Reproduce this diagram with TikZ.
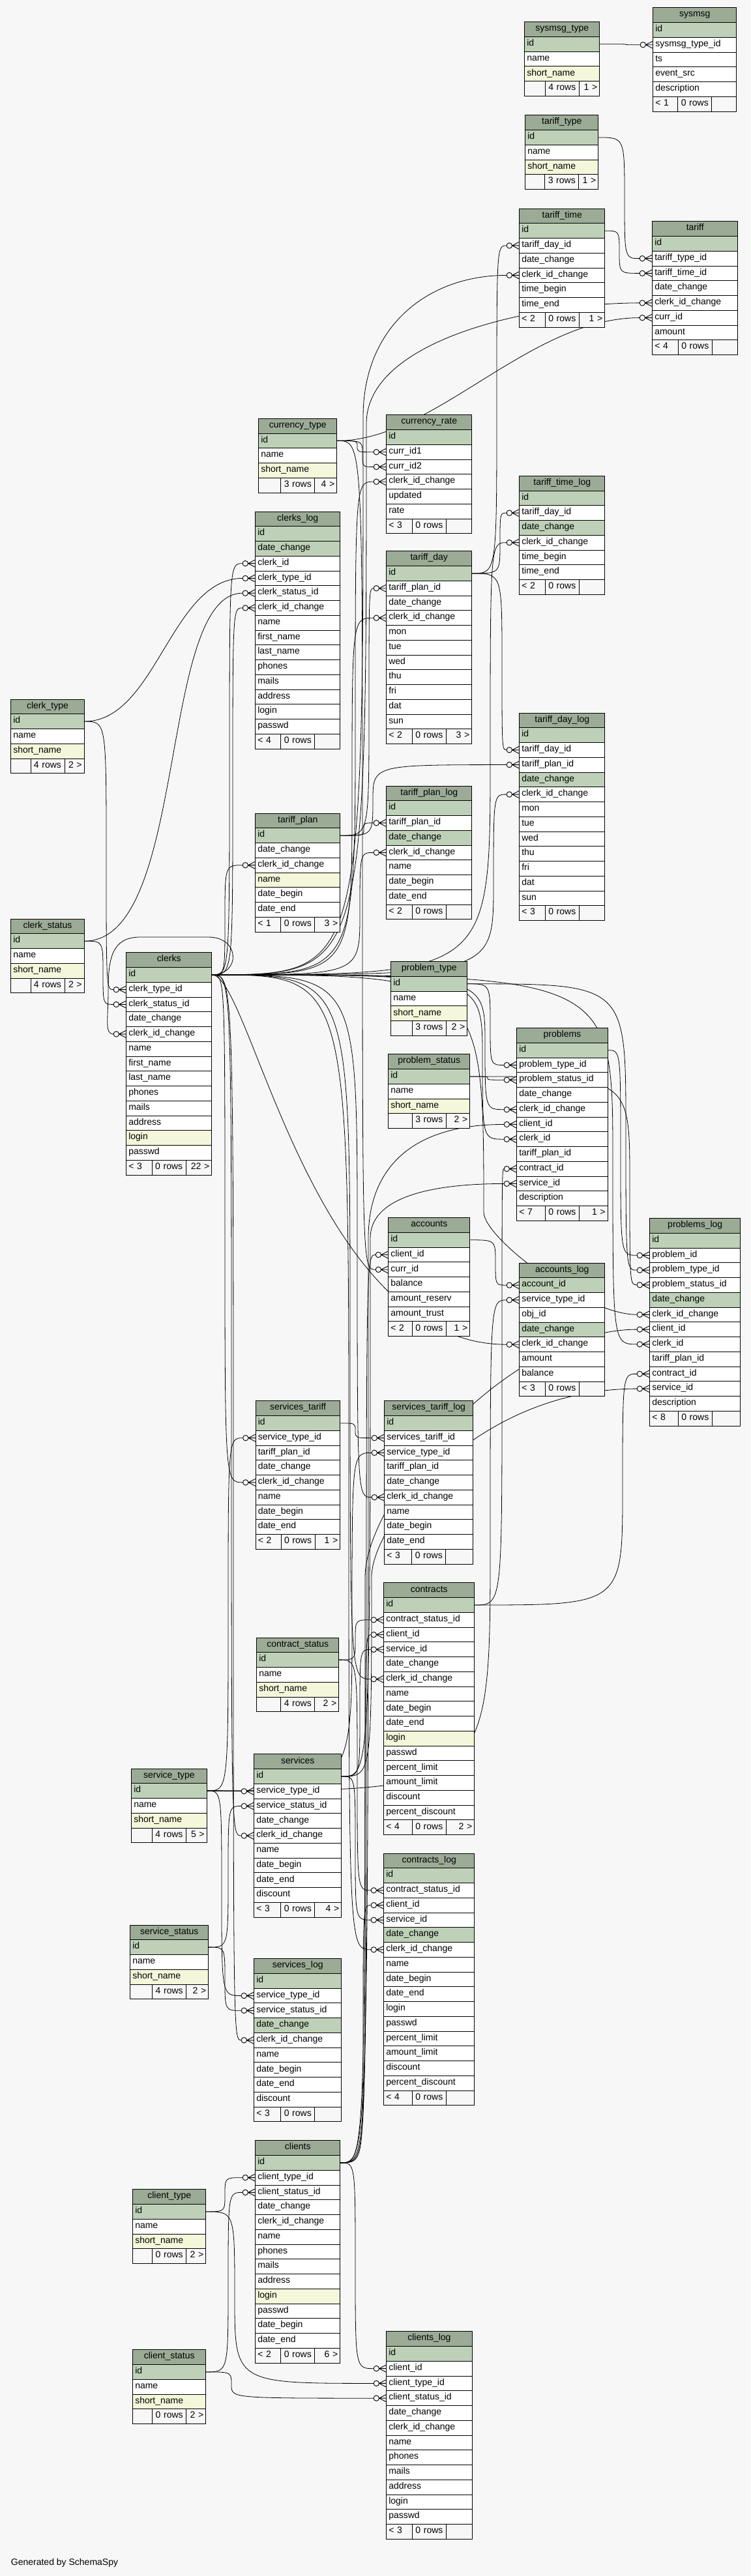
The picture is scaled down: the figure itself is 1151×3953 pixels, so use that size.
\documentclass[tikz,border=0pt]{standalone}
\usepackage{fontspec}
\setmainfont{Liberation Sans}
\usetikzlibrary{calc}
\definecolor{hdrc}{HTML}{9BAB96}
\definecolor{cp}{HTML}{BED1B8}
\definecolor{cn}{HTML}{FFFFFF}
\definecolor{ci}{HTML}{F4F7DA}
\definecolor{bgc}{HTML}{F7F7F7}
\pgfdeclarelayer{bgl}
\pgfdeclarelayer{edges}
\pgfsetlayers{bgl,edges,main}
\newcommand\tabfont{\fontsize{14pt}{16pt}\selectfont}
\def\myrowh{22.75}
\tikzset{
 cell/.style={draw=black, line width=0.9pt, anchor=north west, minimum height=22.75pt,
   inner xsep=3.5pt, inner ysep=0pt, text height=10pt, text depth=4.5pt, align=left, font=\tabfont},
 hdr/.style={cell, fill=hdrc, align=center},
 edge/.style={draw=black, line width=0.8pt},
 mkline/.style={draw=black, line width=0.9pt},
}
% table: name, x, y, width, rows, footer left, mid, right
\newcommand\dbtab[8]{%
  \pgfmathsetmacro\tbtw{#4-7}%
  \node[hdr, text width=\tbtw pt] (#1) at (#2,#3) {#1};
  \foreach \f/\k [count=\i] in {#5}{%
    \node[cell, fill=c\k, text width=\tbtw pt] (#1-\f) at (#2,{#3+\i*\myrowh}) {\f};
    \xdef\tbnrows{\i}}%
  \pgfmathsetmacro\tbfa{(#4-52)/2}%
  \pgfmathsetmacro\tbfb{#4-52-\tbfa}%
  \pgfmathsetmacro\tbfy{#3+(\tbnrows+1)*\myrowh}%
  \pgfmathsetmacro\tbtl{\tbfa-7}%
  \pgfmathsetmacro\tbtr{\tbfb-7}%
  \node[cell, fill=bgc, text width=\tbtl pt, align=left] (#1-fl) at (#2,\tbfy) {#6};
  \node[cell, fill=bgc, text width=45pt, align=center] (#1-fm) at ({#2+\tbfa},\tbfy) {#7};
  \node[cell, fill=bgc, text width=\tbtr pt, align=right] (#1-fr) at ({#2+\tbfa+52},\tbfy) {#8};
}
\newcommand\fkmark[1]{%
  \coordinate (#1-e) at ([xshift=-19.2pt]#1.west);
  \draw[mkline] ([xshift=-10.8pt]#1.west) -- (#1.west)
     ([xshift=-10.8pt]#1.west) -- ([yshift=5.5pt]#1.west)
     ([xshift=-10.8pt]#1.west) -- ([yshift=-5.5pt]#1.west);
  \draw[mkline, fill=bgc] ([xshift=-15pt]#1.west) circle[radius=4.2pt];
}
% corner route through vertical channel x
\newcommand\fkC[3]{%
  \fkmark{#2}%
  \begin{pgfonlayer}{edges}
  \draw[edge] (#1-id.east) .. controls (#3,0 |- #1-id.east) and (#3,0 |- #1-id.east) ..
    ($(#3,0 |- #1-id.east)!0.5!(#3,0 |- #2-e)$) .. controls (#3,0 |- #2-e) and (#3,0 |- #2-e) .. (#2-e);
  \end{pgfonlayer}}
% simple S curve
\newcommand\fkS[4]{%
  \fkmark{#2}%
  \begin{pgfonlayer}{edges}
  \draw[edge] (#1-id.east) .. controls +(#3,0) and +(-#4,0) .. (#2-e);
  \end{pgfonlayer}}
% channel then swoop
\newcommand\fkW[6]{%
  \fkmark{#2}%
  \begin{pgfonlayer}{edges}
  \draw[edge] (#1-id.east) .. controls (#3,0 |- #1-id.east) and (#3,0 |- #1-id.east) .. (#3,#4)
    .. controls +(0,#5) and +(-#6,0) .. (#2-e);
  \end{pgfonlayer}}
\catcode`\_=12
\begin{document}
\begin{tikzpicture}[x=1pt,y=-1pt]
\useasboundingbox (0,0) rectangle (1151,3953);
\begin{pgfonlayer}{bgl}
\fill[bgc] (0,0) rectangle (1151,3953);
\end{pgfonlayer}

\dbtab{sysmsg_type}{804.3}{33.2}{115}{id/p,name/n,short_name/i}{}{4 rows}{1 >}
\dbtab{sysmsg}{1001.3}{11.4}{128}{id/p,sysmsg_type_id/n,ts/n,event_src/n,description/n}{< 1}{0 rows}{}
\dbtab{tariff_type}{805.3}{176.4}{112}{id/p,name/n,short_name/i}{}{3 rows}{1 >}
\dbtab{tariff_time}{796.3}{319.6}{131}{id/p,tariff_day_id/n,date_change/n,clerk_id_change/n,time_begin/n,time_end/n}{< 2}{0 rows}{1 >}
\dbtab{tariff}{1000.3}{339.3}{131}{id/p,tariff_type_id/n,tariff_time_id/n,date_change/n,clerk_id_change/n,curr_id/n,amount/n}{< 4}{0 rows}{}
\dbtab{currency_type}{396.3}{641.8}{120}{id/p,name/n,short_name/i}{}{3 rows}{4 >}
\dbtab{currency_rate}{592.3}{636.4}{131}{id/p,curr_id1/n,curr_id2/n,clerk_id_change/n,updated/n,rate/n}{< 3}{0 rows}{}
\dbtab{clerks_log}{391.3}{784.6}{130}{id/p,date_change/p,clerk_id/n,clerk_type_id/n,clerk_status_id/n,clerk_id_change/n,name/n,first_name/n,last_name/n,phones/n,mails/n,address/n,login/n,passwd/n}{< 4}{0 rows}{}
\dbtab{tariff_time_log}{796.3}{729.8}{131}{id/p,tariff_day_id/n,date_change/p,clerk_id_change/n,time_begin/n,time_end/n}{< 2}{0 rows}{}
\dbtab{tariff_day}{592.3}{845.4}{131}{id/p,tariff_plan_id/n,date_change/n,clerk_id_change/n,mon/n,tue/n,wed/n,thu/n,fri/n,dat/n,sun/n}{< 2}{0 rows}{3 >}
\dbtab{tariff_day_log}{796.3}{1093.5}{131}{id/p,tariff_day_id/n,tariff_plan_id/n,date_change/p,clerk_id_change/n,mon/n,tue/n,wed/n,thu/n,fri/n,dat/n,sun/n}{< 3}{0 rows}{}
\dbtab{clerk_type}{16.3}{1072.5}{112.4}{id/p,name/n,short_name/i}{}{4 rows}{2 >}
\dbtab{tariff_plan}{391.3}{1247.6}{130}{id/p,date_change/n,clerk_id_change/n,name/i,date_begin/n,date_end/n}{< 1}{0 rows}{3 >}
\dbtab{tariff_plan_log}{592.3}{1205.5}{131}{id/p,tariff_plan_id/n,date_change/p,clerk_id_change/n,name/n,date_begin/n,date_end/n}{< 2}{0 rows}{}
\dbtab{clerk_status}{16.3}{1409.6}{112.4}{id/p,name/n,short_name/i}{}{4 rows}{2 >}
\dbtab{clerks}{193.3}{1461.3}{131}{id/p,clerk_type_id/n,clerk_status_id/n,date_change/n,clerk_id_change/n,name/n,first_name/n,last_name/n,phones/n,mails/n,address/n,login/i,passwd/n}{< 3}{0 rows}{22 >}
\dbtab{problem_type}{599.3}{1475.2}{117}{id/p,name/n,short_name/i}{}{3 rows}{2 >}
\dbtab{problem_status}{595.3}{1617.4}{125}{id/p,name/n,short_name/i}{}{3 rows}{2 >}
\dbtab{problems}{792.3}{1577.1}{139.4}{id/p,problem_type_id/n,problem_status_id/n,date_change/n,clerk_id_change/n,client_id/n,clerk_id/n,tariff_plan_id/n,contract_id/n,service_id/n,description/n}{< 7}{0 rows}{1 >}
\dbtab{accounts}{595.4}{1868.2}{125}{id/p,client_id/n,curr_id/n,balance/n,amount_reserv/n,amount_trust/n}{< 2}{0 rows}{1 >}
\dbtab{accounts_log}{796.3}{1937.6}{131}{account_id/p,service_type_id/n,obj_id/n,date_change/p,clerk_id_change/n,amount/n,balance/n}{< 3}{0 rows}{}
\dbtab{problems_log}{996.3}{1869}{139}{id/p,problem_id/n,problem_type_id/n,problem_status_id/n,date_change/p,clerk_id_change/n,client_id/n,clerk_id/n,tariff_plan_id/n,contract_id/n,service_id/n,description/n}{< 8}{0 rows}{}
\dbtab{services_tariff}{391.8}{2149.3}{129.6}{id/p,service_type_id/n,tariff_plan_id/n,date_change/n,clerk_id_change/n,name/n,date_begin/n,date_end/n}{< 2}{0 rows}{1 >}
\dbtab{services_tariff_log}{589.3}{2149.3}{136}{id/p,services_tariff_id/n,service_type_id/n,tariff_plan_id/n,date_change/n,clerk_id_change/n,name/n,date_begin/n,date_end/n}{< 3}{0 rows}{}
\dbtab{contracts}{588.3}{2428.4}{139}{id/p,contract_status_id/n,client_id/n,service_id/n,date_change/n,clerk_id_change/n,name/n,date_begin/n,date_end/n,login/i,passwd/n,percent_limit/n,amount_limit/n,discount/n,percent_discount/n}{< 4}{0 rows}{2 >}
\dbtab{contract_status}{393.3}{2512.5}{126}{id/p,name/n,short_name/i}{}{4 rows}{2 >}
\dbtab{services}{389.3}{2691.4}{134}{id/p,service_type_id/n,service_status_id/n,date_change/n,clerk_id_change/n,name/n,date_begin/n,date_end/n,discount/n}{< 3}{0 rows}{4 >}
\dbtab{service_type}{201.3}{2713.5}{115.4}{id/p,name/n,short_name/i}{}{4 rows}{5 >}
\dbtab{contracts_log}{588.3}{2843.5}{139}{id/p,contract_status_id/n,client_id/n,service_id/n,date_change/p,clerk_id_change/n,name/n,date_begin/n,date_end/n,login/n,passwd/n,percent_limit/n,amount_limit/n,discount/n,percent_discount/n}{< 4}{0 rows}{}
\dbtab{service_status}{199.3}{2953.5}{120}{id/p,name/n,short_name/i}{}{4 rows}{2 >}
\dbtab{services_log}{389.3}{3005.2}{134}{id/p,service_type_id/n,service_status_id/n,date_change/p,clerk_id_change/n,name/n,date_begin/n,date_end/n,discount/n}{< 3}{0 rows}{}
\dbtab{clients}{391.3}{3284.3}{130}{id/p,client_type_id/n,client_status_id/n,date_change/n,clerk_id_change/n,name/n,phones/n,mails/n,address/n,login/i,passwd/n,date_begin/n,date_end/n}{< 2}{0 rows}{6 >}
\dbtab{client_type}{203.3}{3359.3}{112}{id/p,name/n,short_name/i}{}{0 rows}{2 >}
\dbtab{client_status}{203.3}{3605.3}{112}{id/p,name/n,short_name/i}{}{0 rows}{2 >}
\dbtab{clients_log}{592.3}{3577.3}{131.4}{id/p,client_id/n,client_type_id/n,client_status_id/n,date_change/n,clerk_id_change/n,name/n,phones/n,mails/n,address/n,login/n,passwd/n}{< 3}{0 rows}{}

\node[anchor=base west, font=\tabfont, inner sep=0pt] (gen) at (16.7,3936.5) {Generated by SchemaSpy};

% ---- connectors ----
\fkC{sysmsg_type}{sysmsg-sysmsg_type_id}{960}
\fkC{tariff_type}{tariff-tariff_type_id}{958}
\fkC{tariff_time}{tariff-tariff_time_id}{950}
\fkW{clerks}{tariff-clerk_id_change}{562}{650}{-130}{160}
\fkS{currency_type}{tariff-curr_id}{150}{170}
\fkC{tariff_day}{tariff_time-tariff_day_id}{762}
\fkW{clerks}{tariff_time-clerk_id_change}{557}{640}{-140}{120}
\fkC{currency_type}{currency_rate-curr_id1}{548}
\fkC{currency_type}{currency_rate-curr_id2}{556}
\fkC{clerks}{currency_rate-clerk_id_change}{545}
\fkC{clerks}{clerks_log-clerk_id}{352}
\fkS{clerk_type}{clerks_log-clerk_type_id}{110}{110}
\fkS{clerk_status}{clerks_log-clerk_status_id}{160}{130}
\fkC{clerks}{clerks_log-clerk_id_change}{357}
\fkC{tariff_day}{tariff_time_log-tariff_day_id}{767}
\fkC{clerks}{tariff_time_log-clerk_id_change}{752}
\fkC{tariff_plan}{tariff_day-tariff_plan_id}{566}
\fkC{clerks}{tariff_day-clerk_id_change}{540}
\fkC{tariff_day}{tariff_day_log-tariff_day_id}{770}
\fkC{tariff_plan}{tariff_day_log-tariff_plan_id}{572}
\fkC{clerks}{tariff_day_log-clerk_id_change}{757}
\fkC{clerks}{tariff_plan-clerk_id_change}{345}
\fkC{tariff_plan}{tariff_plan_log-tariff_plan_id}{558}
\fkC{clerks}{tariff_plan_log-clerk_id_change}{552}
\fkC{clerk_type}{clerks-clerk_type_id}{163}
\fkC{clerk_status}{clerks-clerk_status_id}{158}
\fkmark{clerks-clerk_id_change}
\begin{pgfonlayer}{edges}
\draw[edge] (clerks-id.east) .. controls (370,1495.4) and (368,1438) .. (320,1438) -- (215,1438)
  .. controls (172,1438) and (166,1470) .. (166,1520) .. controls (166,1565) and (160,1586.4) .. (clerks-clerk_id_change-e);
\end{pgfonlayer}
\fkC{problem_type}{problems-problem_type_id}{752}
\fkC{problem_status}{problems-problem_status_id}{748}
\fkC{clerks}{problems-clerk_id_change}{744}
\fkW{clients}{problems-client_id}{565}{1900}{-100}{150}
\fkC{clerks}{problems-clerk_id}{740}
\fkC{contracts}{problems-contract_id}{770}
\fkW{services}{problems-service_id}{568}{1900}{-60}{120}
\fkC{problems}{problems_log-problem_id}{952}
\fkC{problem_type}{problems_log-problem_type_id}{960}
\fkC{problem_status}{problems_log-problem_status_id}{966}
\fkW{clerks}{problems_log-clerk_id_change}{742}{1860}{40}{80}
\fkW{clients}{problems_log-client_id}{560}{2420}{-120}{200}
\fkC{clerks}{problems_log-clerk_id}{940}
\fkC{contracts}{problems_log-contract_id}{955}
\fkW{services}{problems_log-service_id}{570}{2420}{-80}{250}
\fkC{clients}{accounts-client_id}{562}
\fkC{currency_type}{accounts-curr_id}{556}
\fkC{accounts}{accounts_log-account_id}{760}
\fkC{service_type}{accounts_log-service_type_id}{752}
\fkS{clerks}{accounts_log-clerk_id_change}{60}{300}
\fkC{service_type}{services_tariff-service_type_id}{350}
\fkC{clerks}{services_tariff-clerk_id_change}{345}
\fkC{services_tariff}{services_tariff_log-services_tariff_id}{545}
\fkC{service_type}{services_tariff_log-service_type_id}{540}
\fkC{clerks}{services_tariff_log-clerk_id_change}{548}
\fkC{contract_status}{contracts-contract_status_id}{545}
\fkC{clients}{contracts-client_id}{560}
\fkC{services}{contracts-service_id}{552}
\fkC{clerks}{contracts-clerk_id_change}{537}
\fkC{contract_status}{contracts_log-contract_status_id}{548}
\fkC{clients}{contracts_log-client_id}{557}
\fkC{services}{contracts_log-service_id}{545}
\fkC{clerks}{contracts_log-clerk_id_change}{535}
\fkC{service_type}{services-service_type_id}{345}
\fkC{service_status}{services-service_status_id}{350}
\fkC{clerks}{services-clerk_id_change}{355}
\fkC{service_type}{services_log-service_type_id}{340}
\fkC{service_status}{services_log-service_status_id}{345}
\fkC{clerks}{services_log-clerk_id_change}{358}
\fkC{client_type}{clients-client_type_id}{345}
\fkC{client_status}{clients-client_status_id}{350}
\fkC{clients}{clients_log-client_id}{545}
\fkC{client_type}{clients_log-client_type_id}{360}
\fkC{client_status}{clients_log-client_status_id}{355}
\end{tikzpicture}
\end{document}
